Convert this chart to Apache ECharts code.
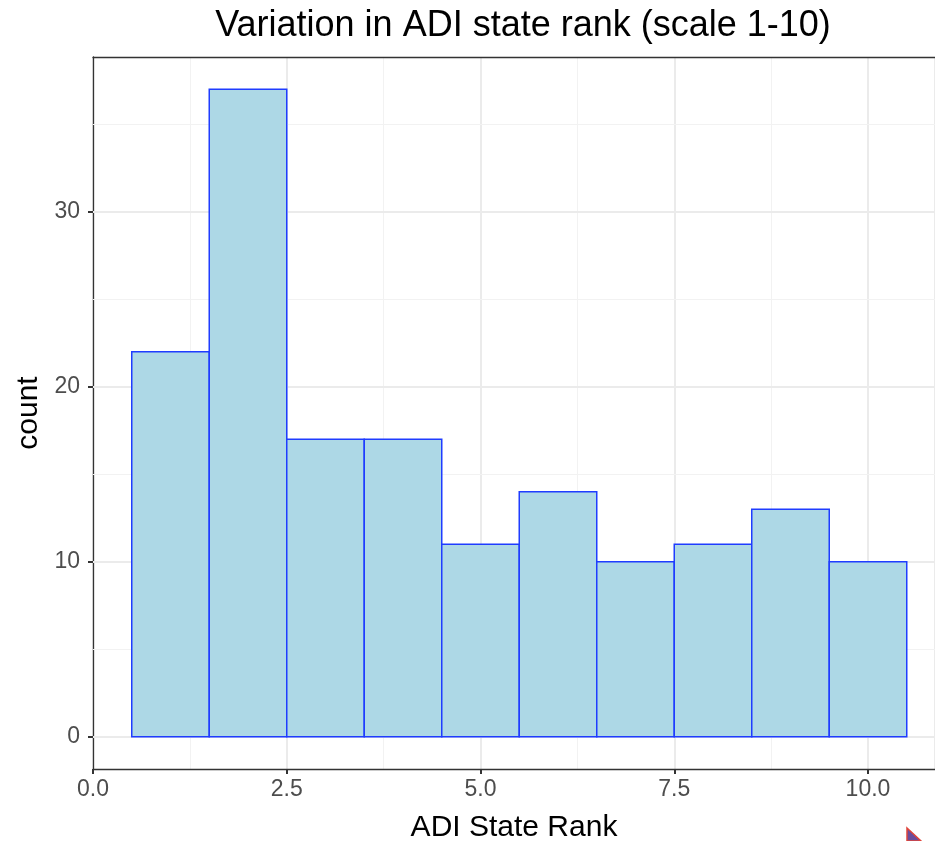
<html>
    <head>
        <meta charset="utf-8">
        <script src="https://cdn.jsdelivr.net/npm/echarts@6/dist/echarts.min.js"></script>
    </head>
    <body style="margin:0">
        <div id="main" style="width:935px;height:841px;"></div>
        <script>
            // histogram bins (centre of each bin, width 1) and counts
            var binCenters = [1, 2, 3, 4, 5, 6, 7, 8, 9, 10];
            var counts = [22, 37, 17, 17, 11, 14, 10, 11, 13, 10];
            var binWidth = 1;
            var yTicks = [0, 10, 20, 30];
            var yMinor = [5, 15, 25, 35];

            var font = 'Liberation Sans, Arial, Helvetica, sans-serif';
            var chart = echarts.init(document.getElementById('main'));

            var gridLines = [];
            yMinor.forEach(function (v) {
                gridLines.push({ yAxis: v, lineStyle: { color: '#f2f2f2', width: 1, type: 'solid' } });
            });
            yTicks.forEach(function (v) {
                gridLines.push({ yAxis: v, lineStyle: { color: '#ebebeb', width: 2, type: 'solid' } });
            });

            // panel is cut off on the right, so the x range ends before the 5% expansion
            var xMax = (935 - 93) / 77.5;

            chart.setOption({
                animation: false,
                title: {
                    text: 'Variation in ADI state rank (scale 1-10)',
                    left: 518,
                    top: 3,
                    textAlign: 'center',
                    textStyle: { fontFamily: font, fontSize: 36, fontWeight: 'normal', color: '#000' }
                },
                grid: { left: 93, top: 57, right: 0, height: 712, outerBoundsMode: 'none', containLabel: false },
                xAxis: [{
                    type: 'value', min: 0, max: xMax, interval: 2.5,
                    name: 'ADI State Rank', nameLocation: 'middle', nameGap: 44,
                    nameTextStyle: { fontFamily: font, fontSize: 30, color: '#000', align: 'center' },
                    axisLine: { show: true, onZero: false, lineStyle: { color: '#333', width: 1.3 } },
                    axisTick: { show: true, length: 5, lineStyle: { color: '#333', width: 2 } },
                    axisLabel: {
                        fontFamily: font, fontSize: 23, color: '#4d4d4d', margin: 9,
                        showMaxLabel: false,
                        formatter: function (v) { return v.toFixed(1); }
                    },
                    splitLine: { show: true, lineStyle: { color: '#ebebeb', width: 2 } },
                    minorTick: { show: false, splitNumber: 2 },
                    minorSplitLine: { show: true, lineStyle: { color: '#f2f2f2', width: 1 } }
                }, {
                    // top panel border
                    type: 'value', position: 'top', min: 0, max: xMax,
                    axisLine: { show: true, onZero: false, lineStyle: { color: '#333', width: 1.3 } },
                    axisTick: { show: false }, axisLabel: { show: false }, splitLine: { show: false }
                }],
                yAxis: {
                    type: 'value', min: -1.85, max: 38.85,
                    name: 'count', nameLocation: 'middle', nameGap: 47, nameRotate: 90,
                    nameTextStyle: { fontFamily: font, fontSize: 30, color: '#000' },
                    axisLine: { show: true, onZero: false, lineStyle: { color: '#333', width: 1.3 } },
                    axisTick: { show: true, length: 5, customValues: yTicks, lineStyle: { color: '#333', width: 2 } },
                    axisLabel: {
                        fontFamily: font, fontSize: 23, color: '#4d4d4d', margin: 13,
                        customValues: yTicks
                    },
                    splitLine: { show: false }
                },
                graphic: [{
                    // small cursor mark in the bottom-right corner of the screenshot
                    type: 'polygon', silent: true,
                    shape: { points: [[907, 828], [921, 841], [907, 841]] },
                    style: { fill: '#6a4c9c', stroke: '#e0443a', lineWidth: 1.5 }
                }],
                series: [
                    {
                        type: 'line', data: [], z: 1, silent: true,
                        markLine: { silent: true, z: 1, symbol: 'none', label: { show: false }, data: gridLines }
                    },
                    {
                        type: 'custom', z: 3,
                        data: binCenters.map(function (c, i) { return [c, counts[i]]; }),
                        renderItem: function (params, api) {
                            var x = api.value(0), y = api.value(1);
                            var p0 = api.coord([x - binWidth / 2, y]);
                            var p1 = api.coord([x + binWidth / 2, 0]);
                            return {
                                type: 'rect',
                                shape: { x: p0[0], y: p0[1], width: p1[0] - p0[0], height: p1[1] - p0[1] },
                                style: { fill: '#add8e6', stroke: '#1f3cff', lineWidth: 1.5 }
                            };
                        }
                    }
                ]
            });
        </script>
    </body>
</html>
